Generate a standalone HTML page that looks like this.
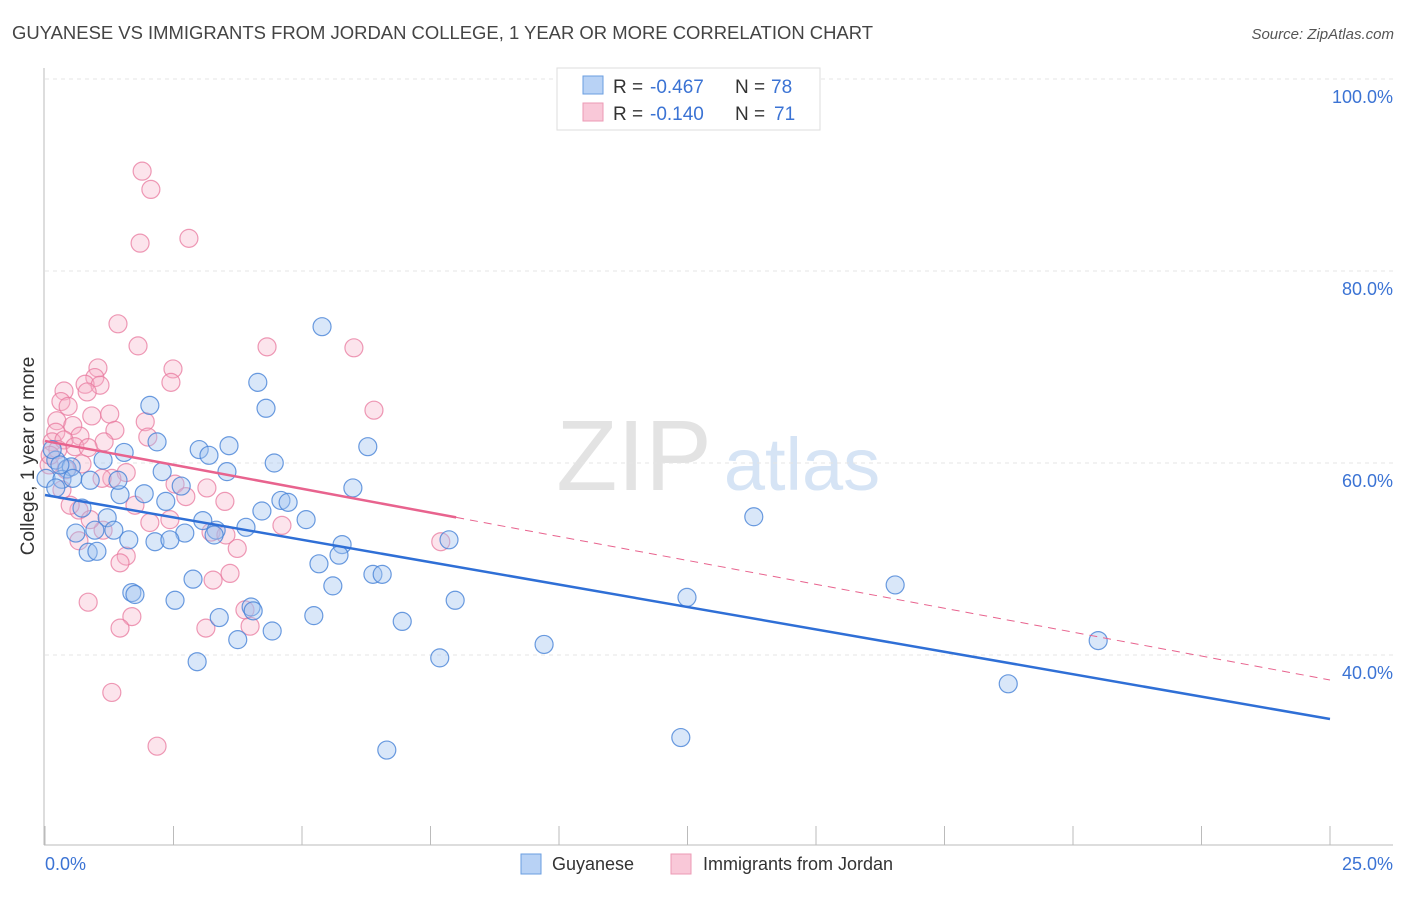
<!DOCTYPE html>
<html><head><meta charset="utf-8"><style>
body{margin:0;background:#fff;font-family:"Liberation Sans",sans-serif;}
svg text{font-family:"Liberation Sans",sans-serif;}
</style></head><body>
<svg id="chart" width="1406" height="892" xmlns="http://www.w3.org/2000/svg">
<text x="12" y="39" font-size="18" fill="#444" textLength="861" lengthAdjust="spacingAndGlyphs">GUYANESE VS IMMIGRANTS FROM JORDAN COLLEGE, 1 YEAR OR MORE CORRELATION CHART</text>
<text x="1394" y="39" font-size="15" fill="#555" font-style="italic" text-anchor="end">Source: ZipAtlas.com</text>
<g>
<text x="634" y="490" font-size="100" fill="#e3e3e3" font-family="Liberation Serif, serif" text-anchor="middle">ZIP</text>
<text x="802" y="490" font-size="74" fill="#d6e4f5" text-anchor="middle">atlas</text>
</g>
<g id="grid"></g>
<g id="axes"></g>
<g id="marks"></g>
<g>
<rect x="557" y="68" width="263" height="62" fill="#fff" stroke="#ddd"/>
<rect x="583" y="76" width="20" height="18" fill="#b8d2f5" stroke="#6a9ee0"/>
<rect x="583" y="103" width="20" height="18" fill="#f9c8d8" stroke="#ec9ab5"/>
<text x="613" y="93" font-size="19" fill="#333">R =</text>
<text x="650" y="93" font-size="19" fill="#3b73d4">-0.467</text>
<text x="735" y="93" font-size="19" fill="#333">N =</text>
<text x="771" y="93" font-size="19" fill="#3b73d4">78</text>
<text x="613" y="120" font-size="19" fill="#333">R =</text>
<text x="650" y="120" font-size="19" fill="#3b73d4">-0.140</text>
<text x="735" y="120" font-size="19" fill="#333">N =</text>
<text x="774" y="120" font-size="19" fill="#3b73d4">71</text>
</g>
<g>
<rect x="521" y="854" width="20" height="20" fill="#b8d2f5" stroke="#6a9ee0"/>
<text x="552" y="870" font-size="18" fill="#333">Guyanese</text>
<rect x="671" y="854" width="20" height="20" fill="#f9c8d8" stroke="#ec9ab5"/>
<text x="703" y="870" font-size="18" fill="#333">Immigrants from Jordan</text>
</g>
<text transform="translate(34,456) rotate(-90)" font-size="19" fill="#333" text-anchor="middle">College, 1 year or more</text>
</svg>
<script>
const blueX=[5.39,4.14,2.04,4.30,2.18,6.28,3.00,3.58,3.19,4.46,1.13,1.54,0.21,0.43,0.51,0.02,0.33,0.54,2.28,3.54,2.65,1.46,1.93,2.35,4.59,4.73,5.99,0.72,1.21,4.22,5.08,3.07,3.33,3.91,3.29,2.72,0.60,0.97,1.34,1.63,2.14,5.78,7.86,0.84,1.01,5.72,5.33,2.88,6.38,6.56,5.60,1.69,1.75,2.53,7.98,12.49,16.54,13.79,4.01,4.05,3.39,5.23,6.95,3.75,4.42,9.71,7.68,2.96,20.49,18.74,12.37,6.65,0.21,0.14,0.88,0.29,1.42,2.43];
const blueY=[74.2,68.4,66.0,65.7,62.2,61.7,61.4,61.8,60.8,60.0,60.3,61.1,60.3,59.4,59.6,58.4,58.3,58.4,59.1,59.1,57.6,56.7,56.8,56.0,56.1,55.9,57.4,55.3,54.3,55.0,54.1,54.0,53.0,53.3,52.5,52.7,52.7,53.0,53.0,52.0,51.8,51.5,52.0,50.7,50.8,50.4,49.5,47.9,48.4,48.4,47.2,46.5,46.3,45.7,45.7,46.0,47.3,54.4,45.0,44.6,43.9,44.1,43.5,41.6,42.5,41.1,39.7,39.3,41.5,37.0,31.4,30.1,57.4,61.4,58.2,59.8,58.2,52.0];
const pinkX=[1.89,2.06,2.80,1.85,1.42,1.81,4.32,6.01,2.49,1.03,0.97,2.45,0.78,0.37,1.07,0.82,0.31,0.91,1.26,0.45,6.40,0.23,1.95,1.36,0.54,0.68,2.00,0.21,0.14,0.37,0.58,1.15,0.84,0.25,0.72,0.08,1.58,1.30,2.53,1.11,3.15,2.74,3.50,1.75,0.66,0.49,2.43,2.04,3.23,3.52,4.61,0.66,1.13,3.74,1.58,1.46,7.70,0.84,3.27,3.60,1.69,1.46,3.13,3.99,1.30,2.18,0.33,0.10,0.41,3.89,0.88];
const pinkY=[90.4,88.5,83.4,82.9,74.5,72.2,72.1,72.0,69.8,69.9,68.9,68.4,68.2,67.5,68.1,67.4,66.4,64.9,65.1,65.9,65.5,64.4,64.3,63.4,63.9,62.8,62.7,63.2,62.2,62.4,61.7,62.2,61.6,61.4,59.9,59.8,59.0,58.4,57.8,58.4,57.4,56.5,56.0,55.6,55.1,55.6,54.1,53.8,52.8,52.5,53.5,51.9,53.0,51.1,50.3,49.6,51.8,45.5,47.8,48.5,44.0,42.8,42.8,43.0,36.1,30.5,57.2,60.8,59.3,44.7,54.1];
const blueTrend=[56.67,33.33];
const pinkTrend=[62.3,37.4];
const pinkSolidEnd=8.0;
const yTicks=[100,80,60,40];
const xTickCount=10;
const NS="http://www.w3.org/2000/svg";
const sx=v=>45+v*51.4, sy=v=>79+(100-v)*9.6;
function mk(tag,attrs,parent){const e=document.createElementNS(NS,tag);for(const k in attrs)e.setAttribute(k,attrs[k]);parent.appendChild(e);return e;}
const grid=document.getElementById('grid'),axes=document.getElementById('axes'),marks=document.getElementById('marks');
yTicks.forEach(t=>{
 const l=mk('line',{x1:45,x2:1393,y1:sy(t),y2:sy(t),stroke:'#e4e4e4','stroke-dasharray':'4,4'},grid);
 
 
 const tx=mk('text',{x:1393,y:sy(t)+24,'font-size':18,fill:'#3b73d4','text-anchor':'end'},axes);
 tx.textContent=t.toFixed(1)+'%';
 
 
});
let a=mk('line',{x1:44,x2:44,y1:68,y2:845,stroke:'#bbb'},axes);


a=mk('line',{x1:44,x2:1393,y1:845,y2:845,stroke:'#bbb'},axes);


for(let i=0;i<=xTickCount;i++){const x=sx(i*25/xTickCount);
 const t=mk('line',{x1:x,x2:x,y1:826,y2:845,stroke:'#bbb'},axes);
 
 }
let lx=mk('text',{x:45,y:870,'font-size':18,fill:'#3b73d4'},axes);lx.textContent='0.0%';


lx=mk('text',{x:1393,y:870,'font-size':18,fill:'#3b73d4','text-anchor':'end'},axes);lx.textContent='25.0%';


function dots(X,Y,fill,stroke,name){X.forEach((x,i)=>{
 const c=mk('circle',{cx:sx(x),cy:sy(Y[i]),r:9,fill:fill,stroke:stroke,'stroke-width':1.2},marks);
 
 });}
dots(pinkX,pinkY,'rgba(246,178,200,0.35)','rgba(232,120,158,0.75)','jordan-point');
dots(blueX,blueY,'rgba(160,196,240,0.4)','rgba(70,130,215,0.8)','guyanese-point');
const pAt=x=>pinkTrend[0]+(pinkTrend[1]-pinkTrend[0])*x/25;
let L=mk('line',{x1:sx(0),y1:sy(blueTrend[0]),x2:sx(25),y2:sy(blueTrend[1]),stroke:'#2f6fd6','stroke-width':2.5},marks);


L=mk('line',{x1:sx(0),y1:sy(pAt(0)),x2:sx(pinkSolidEnd),y2:sy(pAt(pinkSolidEnd)),stroke:'#e8638e','stroke-width':2.5},marks);


L=mk('line',{x1:sx(pinkSolidEnd),y1:sy(pAt(pinkSolidEnd)),x2:sx(25),y2:sy(pAt(25)),stroke:'#e8638e','stroke-width':1,'stroke-dasharray':'8,6'},marks);


</script>
</body></html>
